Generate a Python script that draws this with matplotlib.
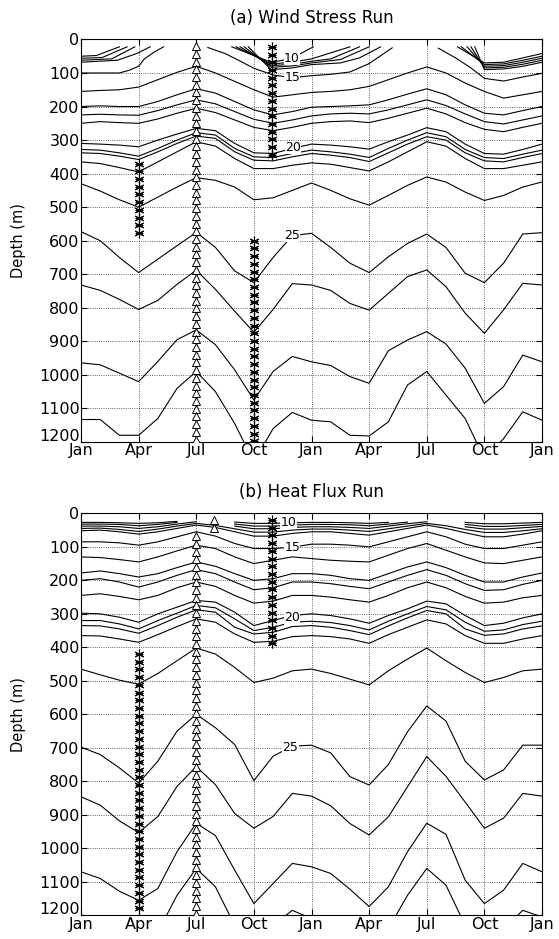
import numpy as np
import matplotlib
matplotlib.use("Agg")
import matplotlib.pyplot as plt
import matplotlib.transforms as mtransforms

plt.rcParams['font.family'] = ['DejaVu Sans']
nan = np.nan

# month axis: 0 = Jan of year 1, 24 = Jan of year 3
months = [0, 1, 2, 3, 4, 5, 6, 7, 8, 9, 10, 11, 12, 13, 14, 15, 16, 17, 18, 19, 20, 21, 22, 23, 24]
month_ticks = [0, 3, 6, 9, 12, 15, 18, 21, 24]
month_labels = ['Jan', 'Apr', 'Jul', 'Oct', 'Jan', 'Apr', 'Jul', 'Oct', 'Jan']
depth_ticks = [0, 100, 200, 300, 400, 500, 600, 700, 800, 900, 1000, 1100, 1200]

# ---------------- (a) wind stress run: isotherm depths (m) ----------------
wind_16 = [155, 152, 150, 142, 120, 98, 80, 100, 125, 150, 172, 165, 158, 155, 150, 140, 120, 100, 82, 100, 130, 155, 175, 165, 155]
wind_17 = [200, 198, 200, 200, 185, 165, 147, 160, 185, 210, 225, 215, 202, 200, 198, 195, 180, 163, 147, 165, 195, 220, 225, 212, 200]
wind_18 = [225, 223, 225, 226, 212, 195, 180, 192, 215, 238, 250, 240, 228, 222, 220, 222, 210, 195, 180, 197, 222, 245, 252, 240, 228]
wind_19 = [250, 245, 248, 250, 237, 220, 205, 218, 240, 262, 272, 262, 250, 245, 243, 248, 235, 220, 205, 222, 248, 268, 275, 262, 250]
wind_20 = [310, 312, 315, 320, 300, 282, 265, 272, 310, 338, 340, 325, 312, 315, 320, 327, 305, 285, 263, 275, 312, 340, 342, 328, 312]
wind_21 = [328, 330, 338, 348, 325, 300, 278, 285, 325, 350, 352, 340, 330, 335, 342, 352, 325, 300, 278, 290, 328, 352, 355, 342, 330]
wind_22 = [338, 340, 348, 358, 335, 310, 288, 295, 335, 360, 362, 350, 340, 345, 352, 364, 338, 312, 290, 300, 338, 362, 365, 352, 340]
wind_23 = [365, 370, 382, 395, 365, 335, 305, 318, 355, 385, 385, 375, 368, 372, 382, 392, 365, 335, 305, 318, 355, 385, 385, 375, 365]
wind_24 = [430, 452, 478, 500, 470, 440, 412, 420, 440, 478, 472, 450, 428, 450, 475, 494, 465, 435, 410, 425, 455, 480, 465, 440, 425]
wind_25 = [573, 600, 650, 695, 655, 615, 575, 620, 690, 725, 650, 585, 578, 620, 667, 695, 648, 608, 580, 620, 697, 725, 667, 580, 576]
wind_26 = [732, 748, 775, 805, 778, 730, 688, 745, 810, 873, 805, 728, 732, 748, 787, 807, 757, 707, 687, 737, 816, 876, 806, 727, 732]
wind_27 = [964, 970, 995, 1020, 960, 895, 866, 910, 985, 1075, 990, 945, 961, 972, 1005, 1025, 928, 896, 871, 908, 980, 1085, 1035, 941, 961]
wind_28 = [1133, 1133, 1180, 1180, 1130, 1040, 990, 1050, 1145, 1260, 1160, 1112, 1135, 1140, 1180, 1182, 1140, 1030, 990, 1060, 1130, 1250, 1190, 1110, 1135]

# shallow isotherms that reach the top model level (month, depth) pieces
wind_15_m = [0, 1, 2, 2.5, 3, 3.3, 3.8, 4.3, nan, 6.6, 7.5, 8.2, 9, 10, 11, 12, 13, 14, 15, 16.2, nan, 18.6, 19.5, 20.3, 21, 22, 23, 24]
wind_15_d = [100, 100, 100, 92, 80, 58, 38, 22, nan, 24, 42, 62, 86, 106, 114, 108, 104, 97, 72, 25, nan, 26, 55, 85, 116, 124, 112, 101]
wind_14_m = [0, 1.9, 2.9, 3.6, nan, 8.71, 9.9, 11, 12, 13.5, 14.5, 15.6, nan, 20.5, 21, 22, 23, 24]
wind_14_d = [68, 62, 42, 22, nan, 22, 90, 85, 75, 70, 55, 22, nan, 22, 90, 88, 80, 68]
wind_13_m = [0, 1.6, 2.8, nan, 8.49, 9.9, 11, 12, 13.5, 15.0, nan, 20.3, 21, 22, 23, 24]
wind_13_d = [62, 58, 22, nan, 22, 83, 79, 70, 60, 22, nan, 22, 85, 83, 74, 62]
wind_12_m = [0, 1.1, 2.4, nan, 8.28, 9.9, 11, 12, 13, 14.5, nan, 20.1, 21, 22, 23, 24]
wind_12_d = [56, 54, 22, nan, 22, 78, 74, 65, 58, 22, nan, 22, 80, 78, 68, 56]
wind_11_m = [0, 0.8, 2.0, nan, 8.07, 9.9, 11, 12, 14, nan, 19.8, 21, 22, 23, 24]
wind_11_d = [50, 48, 22, nan, 22, 73, 68, 58, 22, nan, 22, 75, 73, 62, 50]
wind_10_m = [7.85, 9.9, 10.5, 11.0, 12.1, nan, 19.6, 21, 22, 23, 24]
wind_10_d = [22, 68, 62, 55, 22, nan, 22, 70, 68, 55, 42]

# ---------------- (b) heat flux run ----------------
heat_10 = [27, 27, 28, 30, 28, 24, nan, nan, 26, 30, 30, 28, 27, 27, 28, 30, 27, nan, nan, nan, 27, 31, 31, 29, 27]
heat_11 = [32, 32, 33, 37, 33, 27, nan, nan, 32, 38, 38, 35, 33, 33, 34, 37, 32, 26, nan, nan, 33, 39, 39, 36, 33]
heat_12 = [38, 38, 40, 45, 40, 32, 25, nan, 38, 46, 46, 42, 40, 40, 42, 45, 38, 31, 25, nan, 40, 47, 47, 43, 39]
heat_13 = [45, 44, 48, 54, 47, 38, 30, 36, 46, 56, 56, 50, 47, 47, 50, 54, 46, 38, 30, 37, 48, 57, 57, 52, 46]
heat_14 = [52, 50, 55, 62, 55, 45, 35, 42, 55, 68, 68, 60, 55, 55, 60, 65, 55, 45, 35, 45, 58, 70, 70, 62, 52]
heat_15 = [85, 85, 88, 95, 85, 70, 55, 68, 90, 105, 105, 101, 92, 92, 95, 100, 85, 70, 55, 70, 92, 105, 105, 95, 85]
heat_16 = [130, 132, 138, 145, 130, 112, 95, 105, 130, 150, 140, 130, 135, 140, 143, 145, 125, 105, 90, 110, 130, 148, 150, 140, 130]
heat_17 = [178, 172, 180, 190, 180, 162, 145, 158, 180, 200, 195, 180, 180, 185, 195, 200, 180, 160, 145, 162, 185, 205, 205, 190, 178]
heat_18 = [200, 195, 205, 220, 205, 185, 168, 180, 205, 228, 222, 205, 205, 210, 218, 225, 205, 185, 168, 185, 210, 230, 228, 212, 200]
heat_19 = [245, 240, 248, 258, 245, 222, 205, 218, 245, 268, 262, 245, 245, 250, 258, 265, 245, 222, 205, 222, 248, 268, 265, 252, 245]
heat_20 = [298, 300, 310, 325, 300, 280, 260, 265, 295, 335, 320, 305, 300, 305, 315, 328, 305, 285, 262, 270, 305, 335, 328, 312, 300]
heat_21 = [320, 320, 330, 345, 320, 298, 275, 282, 315, 350, 340, 325, 322, 326, 335, 348, 322, 300, 278, 288, 325, 352, 348, 332, 322]
heat_22 = [335, 336, 345, 358, 335, 310, 288, 295, 340, 360, 355, 338, 335, 340, 350, 362, 336, 312, 290, 300, 345, 364, 360, 345, 336]
heat_23 = [365, 366, 375, 385, 362, 338, 315, 325, 360, 385, 382, 368, 365, 368, 375, 388, 362, 340, 318, 330, 365, 388, 388, 375, 365]
heat_24 = [465, 482, 498, 510, 478, 440, 402, 420, 460, 505, 492, 470, 465, 478, 495, 512, 470, 435, 402, 440, 475, 505, 490, 470, 465]
heat_25 = [698, 720, 760, 805, 740, 650, 600, 640, 690, 798, 725, 695, 692, 715, 786, 811, 750, 652, 575, 620, 740, 796, 766, 692, 692]
heat_26 = [846, 871, 918, 953, 905, 815, 756, 810, 896, 940, 905, 836, 844, 873, 926, 960, 906, 816, 726, 785, 862, 940, 910, 836, 844]
heat_27 = [1070, 1090, 1128, 1155, 1120, 1010, 925, 962, 1065, 1165, 1105, 1045, 1055, 1075, 1122, 1174, 1115, 1010, 925, 958, 1095, 1165, 1125, 1045, 1070]
heat_28 = [1205, 1230, 1260, 1280, 1250, 1140, 1060, 1115, 1230, 1280, 1230, 1185, 1210, 1240, 1260, 1280, 1240, 1140, 1060, 1110, 1230, 1280, 1240, 1185, 1205]

# sampling columns: (month, top depth, bottom depth)
wind_triangles = (6.0, 20, 1200)
wind_stars = [(3.0, 370, 580), (9.0, 600, 1200), (9.93, 22, 350)]
heat_triangles = (6.0, 68, 1200)
heat_triangles_extra = (6.95, [20, 45])
heat_stars = [(3.0, 420, 1200), (9.93, 20, 400)]
level_step = 23

# contour labels: (text, month, depth)
wind_labels = [('10', 10.97, 56), ('15', 11.0, 114), ('20', 11.05, 322), ('25', 11.0, 584)]
heat_labels = [('10', 10.8, 27), ('15', 11.0, 101), ('20', 11.0, 312), ('25', 10.9, 700)]

wind_full = [wind_16, wind_17, wind_18, wind_19, wind_20, wind_21, wind_22, wind_23,
             wind_24, wind_25, wind_26, wind_27, wind_28]
wind_parts = [(wind_15_m, wind_15_d), (wind_14_m, wind_14_d), (wind_13_m, wind_13_d),
              (wind_12_m, wind_12_d), (wind_11_m, wind_11_d), (wind_10_m, wind_10_d)]
heat_full = [heat_10, heat_11, heat_12, heat_13, heat_14, heat_15, heat_16, heat_17, heat_18,
             heat_19, heat_20, heat_21, heat_22, heat_23, heat_24, heat_25, heat_26, heat_27, heat_28]

ASTERISK = (6, 2, 0)   # thin-line asterisk like MATLAB's '*'


def column(ax, m, top, bottom, marker):
    d = np.arange(top, bottom + 1, level_step)
    if marker == '*':
        ax.plot([m, m], [top, bottom], '-', color='k', lw=0.8, zorder=3)
        ax.plot(np.full(len(d), m), d, linestyle='none', marker=ASTERISK, color='k',
                ms=7, mew=0.8, zorder=3)
        ax.plot(np.full(len(d), m), d, linestyle='none', marker='_', color='k',
                ms=6, mew=0.8, zorder=3)
    else:
        ax.plot(np.full(len(d), m), d, '^', mfc='white', mec='k', ms=5.5, mew=0.7, zorder=3)


def draw_panel(ax, full, parts, labels, title):
    for dep in full:
        ax.plot(months, dep, color='k', lw=0.8)
    for m, dep in parts:
        ax.plot(m, dep, color='k', lw=0.8)
    for txt, m, dep in labels:
        ax.text(m, dep, txt, fontsize=9, ha='center', va='center', zorder=4,
                bbox=dict(facecolor='white', edgecolor='none', pad=0.2))
    ax.set_xlim(0, 24)
    ax.set_ylim(1200, 0)
    ax.set_xticks(month_ticks)
    ax.set_xticklabels(month_labels)
    ax.set_yticks(depth_ticks)
    ax.tick_params(direction='in', length=4, width=0.8, top=True, right=True,
                   labelsize=11.5, pad=1)
    ax.grid(True, linestyle=':', color='#333333', lw=0.6)
    for s in ax.spines.values():
        s.set_linewidth(0.8)
    ax.set_ylabel('Depth (m)', fontsize=10.5, labelpad=9)
    ax.set_title(title, fontsize=12, pad=12)
    # lift the bottom depth label a little, as the original does
    fig = ax.figure
    lift = mtransforms.ScaledTranslation(0, 5 / 72, fig.dpi_scale_trans)
    lbl = ax.get_yticklabels()[-1]
    lbl.set_transform(lbl.get_transform() + lift)


fig = plt.figure(figsize=(5.59, 9.39), dpi=100)
ax1 = fig.add_axes([0.1449, 0.5293, 0.8247, 0.4287])
ax2 = fig.add_axes([0.1449, 0.0252, 0.8247, 0.4281])

draw_panel(ax1, wind_full, wind_parts, wind_labels, '(a) Wind Stress Run')
column(ax1, wind_triangles[0], wind_triangles[1], wind_triangles[2], '^')
for m, t, b in wind_stars:
    column(ax1, m, t, b, '*')

draw_panel(ax2, heat_full, [], heat_labels, '(b) Heat Flux Run')
column(ax2, heat_triangles[0], heat_triangles[1], heat_triangles[2], '^')
ax2.plot([heat_triangles_extra[0]] * 2, heat_triangles_extra[1], '^', mfc='white',
         mec='k', ms=5.5, mew=0.7, zorder=3)
for m, t, b in heat_stars:
    column(ax2, m, t, b, '*')

fig.savefig('out.png', dpi=100)
